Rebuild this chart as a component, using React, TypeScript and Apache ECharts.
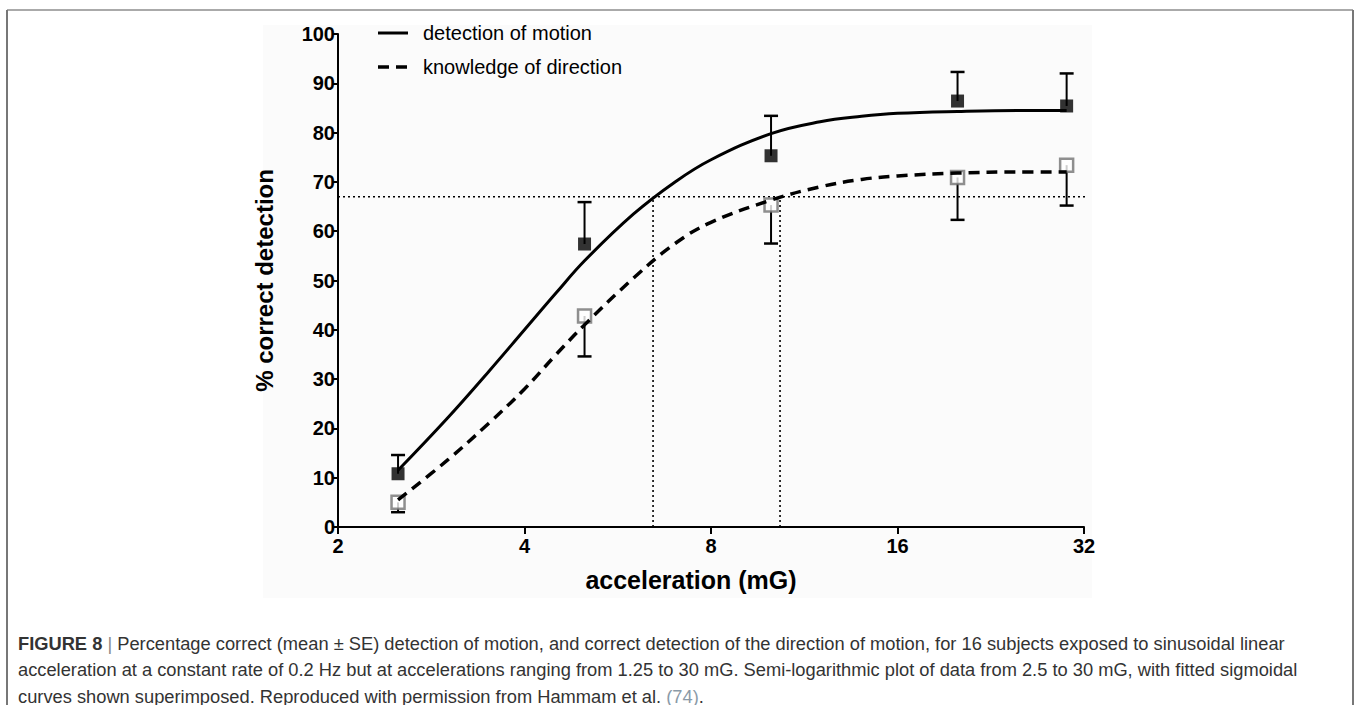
import React, { useEffect, useRef } from "react";
import * as echarts from "echarts";

// ---- data ----
const xTicks = [2, 4, 8, 16, 32];
const accel = [2.5, 5, 10, 20, 30];
const motionMean = [10.8, 57.4, 75.3, 86.4, 85.4];
const motionUpper = [14.6, 65.9, 83.4, 92.3, 92.0];
const directionMean = [5.0, 42.8, 65.3, 70.9, 73.4];
const directionLower = [3.0, 34.6, 57.5, 62.3, 65.2];

const curveX = [2.5, 3, 3.5, 4, 4.5, 5, 6, 7, 8, 10, 12, 14, 16, 20, 25, 30];
const motionFit = [11.5, 22, 31.5, 40, 47.5, 54, 63.5, 70, 74.5, 79.8, 82.2, 83.3, 83.9, 84.3, 84.5, 84.5];
const directionFit = [5.5, 13.5, 21, 28, 35, 41, 50.5, 57.5, 61.8, 66.3, 69, 70.5, 71.2, 71.8, 72, 72];

const threshold = 67;
const thresholdX = [6.45, 10.34];

const legendNames = ["detection of motion", "knowledge of direction"];
const yAxisName = "% correct detection";
const xAxisName = "acceleration (mG)";
const captionLines = [
  "{b|FIGURE 8} {p||} Percentage correct (mean ± SE) detection of motion, and correct detection of the direction of motion, for 16 subjects exposed to sinusoidal linear",
  "acceleration at a constant rate of 0.2 Hz but at accelerations ranging from 1.25 to 30 mG. Semi-logarithmic plot of data from 2.5 to 30 mG, with fitted sigmoidal",
  "curves shown superimposed. Reproduced with permission from Hammam et al. {g|(74)}.",
];

const FONT = "'Liberation Sans', Arial, Helvetica, sans-serif";
const CAP = 18.3;

export default function App() {
  const ref = useRef<HTMLDivElement>(null);
  useEffect(() => {
    if (!ref.current) return;
    const chart = echarts.init(ref.current, null, { renderer: "svg" });

    const errRender = (params: any, api: any) => {
      const x = api.value(0);
      const m = api.value(1);
      const e = api.value(2);
      const p0 = api.coord([x, m]);
      const p1 = api.coord([x, e]);
      const half = 7;
      return {
        type: "group",
        children: [
          { type: "line", shape: { x1: p0[0], y1: p0[1], x2: p1[0], y2: p1[1] }, style: { stroke: "#000", lineWidth: 2 } },
          { type: "line", shape: { x1: p1[0] - half, y1: p1[1], x2: p1[0] + half, y2: p1[1] }, style: { stroke: "#000", lineWidth: 2.5 } },
        ],
      };
    };

    const dotted = { color: "#000", width: 1.6, type: [2, 3] as any };

    const option: any = {
      animation: false,
      backgroundColor: "#fff",
      grid: { left: 338, right: 272, top: 34, bottom: 178, containLabel: false },
      xAxis: {
        type: "log",
        logBase: 2,
        min: 2,
        max: 32,
        name: xAxisName,
        nameLocation: "middle",
        nameGap: 40,
        nameTextStyle: { fontFamily: FONT, fontWeight: "bold", fontSize: 25, color: "#000", padding: [0, 40, 0, 0] },
        axisLine: { show: true, lineStyle: { color: "#000", width: 2 } },
        axisTick: { show: true, length: 7, lineStyle: { color: "#000", width: 2 } },
        minorTick: { show: false },
        splitLine: { show: false },
        axisLabel: {
          fontFamily: FONT,
          fontWeight: "bold",
          fontSize: 20,
          color: "#000",
          margin: 9,
          formatter: (v: number) => (xTicks.includes(Math.round(v)) ? String(Math.round(v)) : ""),
        },
      },
      yAxis: {
        type: "value",
        min: 0,
        max: 100,
        interval: 10,
        name: yAxisName,
        nameLocation: "middle",
        nameGap: 62,
        nameRotate: 90,
        nameTextStyle: { fontFamily: FONT, fontWeight: "bold", fontSize: 24, color: "#000" },
        axisLine: { show: true, lineStyle: { color: "#000", width: 2 } },
        axisTick: { show: true, length: 6, lineStyle: { color: "#000", width: 2 } },
        splitLine: { show: false },
        axisLabel: { fontFamily: FONT, fontWeight: "bold", fontSize: 20, color: "#000", margin: 3 },
      },
      series: [
        {
          type: "line",
          data: [[2, threshold], [32.6, threshold]],
          clip: false,
          symbol: "none",
          lineStyle: dotted,
          z: 1,
        },
        ...thresholdX.map((tx) => ({
          type: "line",
          data: [[tx, 0], [tx, threshold]],
          symbol: "none",
          lineStyle: dotted,
          z: 1,
        })),
        {
          type: "custom",
          renderItem: errRender,
          data: accel.map((x, i) => [x, motionMean[i], motionUpper[i]]),
          z: 2,
        },
        {
          type: "custom",
          renderItem: errRender,
          data: accel.map((x, i) => [x, directionMean[i], directionLower[i]]),
          z: 2,
        },
        {
          type: "scatter",
          data: accel.map((x, i) => [x, motionMean[i]]),
          symbol: "rect",
          symbolSize: 13,
          itemStyle: { color: "#000" },
          z: 3,
        },
        {
          type: "scatter",
          data: accel.map((x, i) => [x, directionMean[i]]),
          symbol: "rect",
          symbolSize: 13,
          itemStyle: { color: "#fff", borderColor: "#737373", borderWidth: 2.5 },
          z: 3,
        },
        {
          type: "line",
          name: legendNames[0],
          data: curveX.map((x, i) => [x, motionFit[i]]),
          smooth: 0.4,
          symbol: "none",
          lineStyle: { color: "#000", width: 3 },
          z: 4,
        },
        {
          type: "line",
          name: legendNames[1],
          data: curveX.map((x, i) => [x, directionFit[i]]),
          smooth: 0.4,
          symbol: "none",
          lineStyle: { color: "#000", width: 3.5, type: [11, 7] },
          z: 4,
        },
      ],
      graphic: [
        { type: "rect", z: -10, shape: { x: 263, y: 25, width: 829, height: 573 }, style: { fill: "#fbfbfb" } },
        { type: "line", shape: { x1: 7, y1: 10, x2: 1353, y2: 10 }, style: { stroke: "#aaaaaa", lineWidth: 2 } },
        { type: "line", shape: { x1: 7, y1: 10, x2: 7, y2: 705 }, style: { stroke: "#777777", lineWidth: 2 } },
        { type: "line", shape: { x1: 1353, y1: 10, x2: 1353, y2: 705 }, style: { stroke: "#777777", lineWidth: 2 } },
        { type: "line", shape: { x1: 378, y1: 33, x2: 408, y2: 33 }, style: { stroke: "#000", lineWidth: 3 } },
        { type: "text", x: 423, y: 33, style: { text: legendNames[0], fontFamily: FONT, fontSize: 20, fill: "#000", verticalAlign: "middle" } },
        { type: "line", shape: { x1: 378, y1: 67, x2: 408, y2: 67 }, style: { stroke: "#000", lineWidth: 3.5, lineDash: [11, 7] } },
        { type: "text", x: 423, y: 67, style: { text: legendNames[1], fontFamily: FONT, fontSize: 20, fill: "#000", verticalAlign: "middle" } },
        ...captionLines.map((t, i) => ({
          type: "text",
          x: 18,
          y: 643 + i * 26.5,
          style: {
            text: t,
            fontFamily: FONT,
            fontSize: CAP,
            fill: "#333",
            verticalAlign: "middle",
            rich: {
              b: { fontWeight: "bold", fontSize: CAP, fontFamily: FONT, fill: "#333", color: "#333" },
              p: { fontSize: CAP, fontFamily: FONT, fill: "#888", color: "#888" },
              g: { fontSize: CAP, fontFamily: FONT, fill: "#8a9aa8", color: "#8a9aa8" },
            },
          },
        })),
      ],
    };
    chart.setOption(option);
    return () => chart.dispose();
  }, []);
  return <div ref={ref} style={{ position: "absolute", left: 0, top: 0, width: 1356, height: 705 }} />;
}
